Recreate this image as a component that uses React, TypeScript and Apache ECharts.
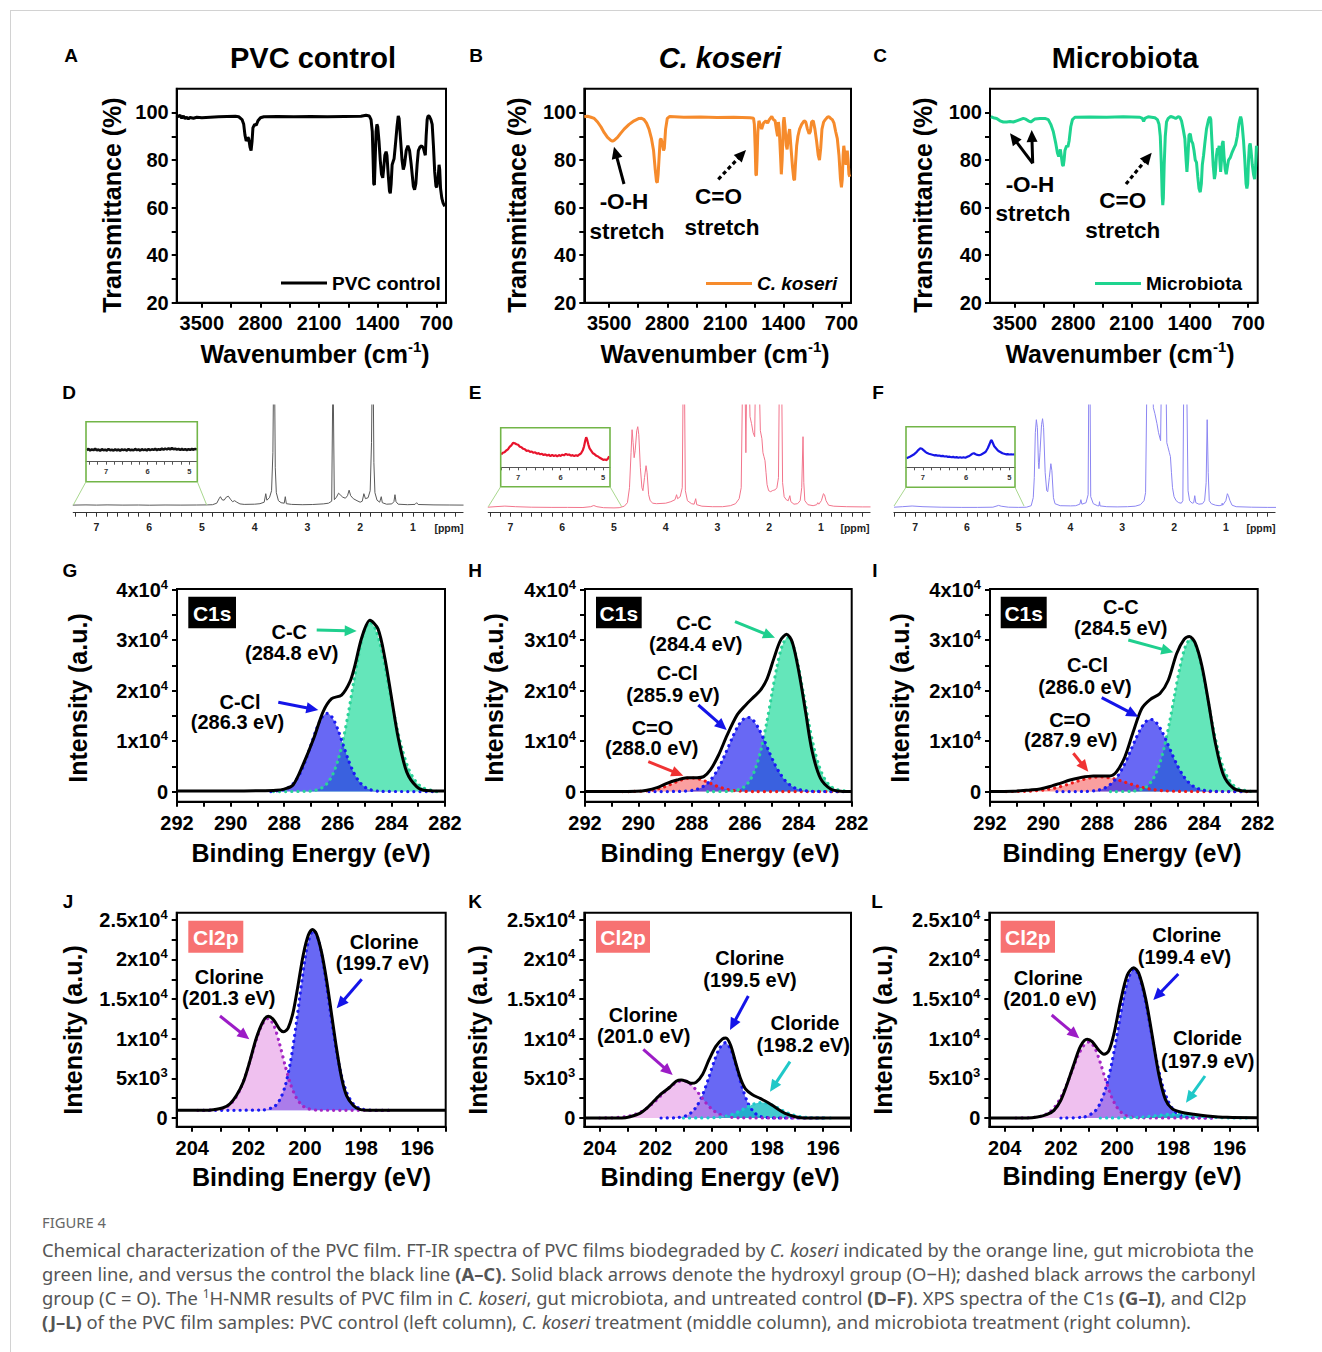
import React, { useEffect, useRef } from 'react';
import * as echarts from 'echarts';

const FONT = '"Liberation Sans", Arial, Helvetica, sans-serif';
const CAPTION_FONT = '"Noto Sans", "Open Sans", "DejaVu Sans", sans-serif';

// ---------------- FT-IR (A–C): [wavenumber (cm-1), transmittance (%)] ----------------
const ftirXTicks = [3500, 2800, 2100, 1400, 700];
const ftirXTickMarks = [3500, 3150, 2800, 2450, 2100, 1750, 1400, 1050, 700];
const ftirYTicks = [20, 40, 60, 80, 100];
const ftirYTickMarks = [20, 30, 40, 50, 60, 70, 80, 90, 100];

const ftirControl = [
  [3800, 98.8], [3780, 98.2], [3760, 98.9], [3740, 97.6], [3720, 98.5], [3700, 97.4], [3680, 98.0], [3660, 97.3],
  [3640, 97.9], [3600, 97.6], [3560, 98.0], [3500, 97.8], [3400, 98.0], [3300, 98.2], [3200, 98.3], [3100, 98.4],
  [3060, 98.2], [3020, 97.0], [3000, 95.0], [2985, 90.5], [2970, 88.0], [2960, 88.6], [2950, 89.5], [2940, 89.0],
  [2925, 85.5], [2912, 84.0], [2900, 88.0], [2890, 93.5], [2870, 95.0], [2850, 94.6], [2830, 96.5], [2800, 97.8],
  [2760, 98.2], [2600, 98.3], [2400, 98.2], [2200, 98.3], [2000, 98.2], [1800, 98.3], [1600, 98.4], [1540, 98.8],
  [1500, 98.5], [1480, 97.0], [1465, 92.0], [1455, 80.0], [1448, 70.0], [1440, 69.5], [1432, 78.0], [1420, 92.0],
  [1410, 95.0], [1400, 94.0], [1385, 88.0], [1370, 80.0], [1355, 74.0], [1340, 72.5], [1330, 76.0], [1315, 82.0],
  [1300, 83.5], [1290, 82.0], [1275, 74.0], [1260, 67.0], [1250, 66.0], [1240, 70.0], [1228, 78.0], [1215, 79.5],
  [1205, 80.5], [1190, 86.0], [1170, 94.0], [1155, 98.5], [1145, 97.5], [1130, 90.0], [1110, 80.0], [1095, 76.0],
  [1080, 78.0], [1060, 84.0], [1040, 86.0], [1020, 84.0], [1000, 78.0], [975, 69.0], [960, 67.5], [945, 70.0],
  [930, 78.0], [915, 84.0], [895, 85.5], [875, 86.0], [855, 85.0], [840, 83.0], [832, 82.0], [822, 90.0],
  [810, 97.0], [800, 98.5], [785, 98.5], [765, 97.0], [750, 95.0], [735, 86.0], [720, 75.0], [705, 69.0],
  [695, 68.5], [680, 72.0], [668, 78.0], [660, 76.0], [650, 68.0], [635, 64.0], [620, 62.0], [600, 60.5],
];

const ftirKoseri = [
  [3800, 98.2], [3760, 98.4], [3720, 98.0], [3680, 97.5], [3640, 96.0], [3600, 94.0], [3560, 91.5], [3520, 89.5],
  [3480, 88.3], [3460, 88.0], [3440, 88.3], [3400, 89.5], [3360, 91.3], [3320, 93.0], [3260, 95.0], [3200, 96.5],
  [3140, 97.5], [3110, 97.6], [3080, 97.0], [3050, 95.5], [3020, 93.0], [2990, 89.0], [2965, 84.0], [2945, 76.0],
  [2930, 71.0], [2920, 70.5], [2910, 74.0], [2895, 83.0], [2885, 88.5], [2875, 89.0], [2860, 87.0], [2845, 84.0],
  [2835, 85.0], [2820, 93.0], [2800, 97.5], [2770, 98.3], [2600, 98.0], [2400, 98.1], [2200, 97.9], [2000, 98.0],
  [1800, 97.8], [1760, 97.6], [1750, 95.0], [1740, 85.0], [1732, 74.0], [1725, 73.5], [1718, 80.0], [1708, 92.0],
  [1695, 96.5], [1680, 95.0], [1662, 93.0], [1640, 95.5], [1610, 96.5], [1590, 95.5], [1570, 97.0], [1540, 98.3],
  [1520, 97.0], [1500, 96.5], [1480, 92.0], [1470, 90.0], [1460, 96.0], [1450, 93.0], [1435, 82.0], [1425, 74.0],
  [1415, 80.0], [1400, 96.0], [1392, 98.0], [1380, 94.0], [1365, 86.0], [1355, 84.5], [1340, 90.0], [1325, 93.0],
  [1310, 86.0], [1290, 77.0], [1275, 72.0], [1265, 71.5], [1255, 78.0], [1240, 86.0], [1225, 90.0], [1205, 93.0],
  [1180, 95.0], [1150, 96.5], [1130, 96.0], [1110, 93.0], [1090, 91.0], [1075, 92.0], [1060, 96.0], [1040, 96.5],
  [1020, 93.0], [1000, 88.0], [980, 82.0], [965, 80.0], [950, 85.0], [935, 93.0], [915, 96.0], [895, 97.0],
  [870, 98.0], [850, 98.2], [830, 97.5], [810, 97.0], [790, 95.5], [770, 92.0], [750, 89.0], [730, 82.0],
  [712, 72.0], [700, 68.5], [690, 72.0], [680, 82.0], [672, 86.0], [665, 84.0], [655, 80.0], [645, 78.0],
  [630, 84.0], [620, 80.0], [610, 74.0], [600, 73.0],
];

const ftirMicrobiota = [
  [3790, 98.2], [3760, 97.8], [3720, 97.5], [3680, 96.5], [3640, 96.0], [3600, 96.0], [3560, 96.2], [3520, 96.0],
  [3480, 96.5], [3440, 97.0], [3400, 97.5], [3370, 97.2], [3340, 96.5], [3310, 96.0], [3290, 96.5], [3260, 97.3],
  [3200, 97.5], [3140, 97.5], [3100, 97.0], [3070, 95.0], [3040, 92.0], [3010, 87.0], [2990, 83.0], [2975, 81.5],
  [2965, 82.5], [2955, 84.5], [2945, 82.0], [2930, 78.0], [2920, 77.5], [2910, 80.0], [2900, 84.0], [2880, 86.0],
  [2865, 85.5], [2850, 88.0], [2830, 94.0], [2810, 97.0], [2780, 98.0], [2600, 98.1], [2400, 98.0], [2200, 98.2],
  [2000, 98.0], [1970, 97.5], [1955, 96.3], [1940, 97.5], [1900, 98.2], [1820, 97.8], [1790, 97.0], [1770, 95.0],
  [1755, 90.0], [1742, 78.0], [1732, 65.0], [1725, 61.0], [1718, 64.0], [1708, 78.0], [1695, 90.0], [1680, 96.0],
  [1660, 97.5], [1630, 98.3], [1600, 98.0], [1570, 97.5], [1540, 98.2], [1520, 98.0], [1500, 96.5], [1480, 93.0],
  [1460, 89.0], [1445, 80.0], [1435, 75.0], [1425, 80.0], [1410, 90.5], [1395, 91.0], [1380, 88.0], [1365, 87.0],
  [1350, 84.0], [1335, 80.0], [1320, 79.0], [1305, 73.0], [1290, 68.0], [1275, 66.5], [1262, 70.0], [1250, 78.0],
  [1235, 82.0], [1220, 87.0], [1200, 93.0], [1175, 97.0], [1160, 98.2], [1148, 97.0], [1135, 88.0], [1120, 78.0],
  [1105, 72.0], [1095, 74.0], [1080, 82.0], [1068, 85.0], [1058, 84.0], [1048, 86.0], [1040, 80.0], [1030, 75.0],
  [1020, 80.0], [1010, 87.0], [1000, 88.0], [990, 82.0], [975, 76.0], [963, 74.0], [950, 77.0], [935, 80.0],
  [915, 81.0], [895, 83.0], [870, 85.0], [850, 86.5], [830, 90.0], [812, 95.0], [800, 97.0], [790, 98.2],
  [780, 97.0], [770, 94.0], [755, 88.0], [740, 80.0], [725, 70.0], [715, 68.0], [705, 70.0], [695, 80.0],
  [685, 86.0], [675, 87.0], [665, 84.0], [650, 78.0], [635, 74.0], [622, 72.0], [612, 76.0], [600, 86.0],
];

// ---------------- 1H-NMR (D–F): [ppm, signal height] ----------------
const nmrXTicks = [1, 2, 3, 4, 5, 6, 7];
const nmrInsetXTicks = [5, 6, 7];

const nmrControl = [
  [7.45, 7.6], [7.2, 7.8], [7.0, 7.6], [6.8, 7.8], [6.5, 7.6], [6.2, 7.7], [6.0, 7.5], [5.7, 7.7], [5.4, 7.6],
  [5.1, 7.7], [4.9, 7.8], [4.8, 8.0], [4.72, 9.5], [4.67, 14.5], [4.65, 16.0], [4.62, 13.0], [4.58, 12.5],
  [4.54, 15.5], [4.5, 16.5], [4.46, 13.5], [4.42, 11.0], [4.38, 12.0], [4.34, 10.5], [4.28, 8.8], [4.2, 8.3],
  [4.0, 8.5], [3.9, 9.0], [3.82, 10.5], [3.79, 19.0], [3.77, 12.5], [3.72, 15.0], [3.68, 22.0], [3.655, 60.0],
  [3.64, 150], [3.625, 150], [3.61, 45.0], [3.59, 20.0], [3.55, 12.0], [3.5, 10.0], [3.44, 9.5], [3.42, 16.0],
  [3.4, 9.0], [3.3, 8.3], [3.1, 8.0], [2.9, 8.2], [2.7, 8.8], [2.6, 9.5], [2.54, 11.5], [2.515, 150],
  [2.505, 150], [2.49, 13.0], [2.45, 15.5], [2.41, 19.5], [2.38, 18.0], [2.33, 15.5], [2.28, 14.5], [2.24, 17.0],
  [2.21, 22.5], [2.18, 17.0], [2.13, 14.0], [2.06, 12.0], [2.0, 10.5], [1.96, 11.5], [1.93, 19.0], [1.9, 14.0],
  [1.85, 15.0], [1.81, 22.0], [1.785, 70.0], [1.77, 150], [1.755, 150], [1.74, 50.0], [1.72, 20.0], [1.68, 12.5],
  [1.63, 10.5], [1.6, 16.0], [1.58, 10.0], [1.5, 8.5], [1.4, 8.8], [1.36, 11.0], [1.34, 18.0], [1.32, 11.0],
  [1.28, 8.5], [1.1, 8.0], [0.96, 8.3], [0.93, 10.0], [0.9, 8.2], [0.6, 7.8], [0.3, 7.7], [0.04, 7.6],
];

const nmrKoseri = [
  [7.44, 5.5], [7.3, 6.0], [7.11, 6.6], [6.9, 6.0], [6.6, 5.5], [6.2, 5.3], [5.9, 5.3], [5.6, 5.2], [5.45, 6.0],
  [5.39, 7.2], [5.33, 6.0], [5.2, 5.0], [5.0, 4.8], [4.9, 5.0], [4.8, 6.5], [4.74, 10.0], [4.7, 25.0], [4.67, 60.0],
  [4.65, 83.0], [4.63, 70.0], [4.61, 55.0], [4.59, 62.0], [4.56, 82.0], [4.54, 86.0], [4.52, 78.0], [4.49, 45.0],
  [4.46, 25.0], [4.44, 22.0], [4.41, 35.0], [4.38, 47.0], [4.36, 40.0], [4.33, 18.0], [4.3, 12.0], [4.25, 9.5],
  [4.18, 9.0], [4.0, 9.5], [3.9, 11.0], [3.82, 13.0], [3.79, 18.0], [3.77, 14.0], [3.72, 16.0], [3.68, 25.0],
  [3.66, 150], [3.64, 150], [3.62, 22.0], [3.58, 12.0], [3.5, 9.0], [3.45, 8.5], [3.42, 14.0], [3.4, 8.0],
  [3.3, 6.5], [3.1, 6.0], [2.9, 6.0], [2.75, 7.0], [2.65, 9.0], [2.58, 14.0], [2.54, 25.0], [2.51, 150],
  [2.47, 150], [2.45, 60.0], [2.43, 150], [2.39, 150], [2.37, 96.0], [2.34, 89.0], [2.31, 80.0], [2.28, 76.0],
  [2.26, 150], [2.2, 150], [2.17, 82.0], [2.14, 74.0], [2.12, 60.0], [2.1, 56.0], [2.08, 52.0], [2.06, 40.0],
  [2.04, 28.0], [2.01, 22.0], [1.97, 21.0], [1.94, 22.0], [1.91, 22.5], [1.88, 23.0], [1.85, 25.0], [1.82, 35.0],
  [1.8, 150], [1.76, 150], [1.74, 30.0], [1.71, 16.0], [1.67, 13.0], [1.63, 12.0], [1.6, 17.0], [1.58, 11.0],
  [1.52, 8.5], [1.45, 9.0], [1.4, 12.0], [1.37, 25.0], [1.345, 76.0], [1.33, 30.0], [1.31, 12.0], [1.25, 8.0],
  [1.15, 7.0], [1.08, 8.0], [1.06, 10.0], [1.04, 8.5], [0.99, 12.0], [0.95, 19.0], [0.93, 18.0], [0.9, 12.0],
  [0.85, 7.5], [0.75, 6.5], [0.5, 6.0], [0.2, 5.8], [0.04, 5.8],
];

const nmrMicrobiota = [
  [7.41, 5.5], [7.25, 6.0], [7.06, 6.7], [6.85, 6.0], [6.5, 5.5], [6.1, 5.3], [5.8, 5.3], [5.5, 5.5], [5.42, 6.8],
  [5.39, 7.3], [5.34, 6.5], [5.2, 5.5], [5.0, 5.3], [4.85, 5.5], [4.76, 7.0], [4.72, 15.0], [4.7, 35.0], [4.68, 80.0],
  [4.66, 93.0], [4.64, 85.0], [4.62, 50.0], [4.61, 44.0], [4.59, 60.0], [4.56, 88.0], [4.54, 94.0], [4.52, 85.0],
  [4.49, 40.0], [4.46, 22.0], [4.44, 21.0], [4.41, 35.0], [4.38, 49.0], [4.36, 42.0], [4.33, 15.0], [4.3, 9.0],
  [4.2, 7.0], [4.0, 6.8], [3.9, 7.0], [3.82, 8.5], [3.8, 13.0], [3.78, 8.5], [3.7, 10.0], [3.66, 18.0],
  [3.645, 150], [3.625, 150], [3.61, 16.0], [3.56, 9.0], [3.48, 7.0], [3.45, 6.8], [3.44, 11.0], [3.43, 6.8],
  [3.3, 6.0], [3.1, 5.8], [2.9, 6.0], [2.75, 6.5], [2.65, 8.0], [2.58, 12.0], [2.55, 20.0], [2.52, 150],
  [2.47, 150], [2.45, 120], [2.42, 150], [2.4, 105.0], [2.37, 99.0], [2.33, 89.0], [2.3, 80.0], [2.26, 72.0],
  [2.24, 150], [2.16, 150], [2.14, 70.0], [2.12, 66.0], [2.09, 60.0], [2.07, 56.0], [2.05, 40.0], [2.03, 25.0],
  [2.0, 16.0], [1.96, 12.0], [1.91, 10.0], [1.86, 9.5], [1.83, 12.0], [1.81, 150], [1.76, 150], [1.73, 22.0],
  [1.7, 12.0], [1.65, 9.5], [1.62, 10.0], [1.6, 17.0], [1.58, 10.0], [1.52, 8.5], [1.45, 9.0], [1.41, 12.0],
  [1.38, 30.0], [1.36, 93.0], [1.34, 40.0], [1.32, 12.0], [1.28, 9.0], [1.2, 7.5], [1.13, 7.0], [1.08, 7.5],
  [1.07, 9.5], [1.06, 7.5], [1.0, 12.0], [0.97, 19.0], [0.95, 17.0], [0.92, 12.0], [0.88, 7.5], [0.8, 6.0],
  [0.5, 5.5], [0.2, 5.3], [0.03, 5.3],
];

const nmrInsetControl = [
  [7.46, 11.5], [7.42, 12.8], [7.38, 11.2], [7.34, 12.4], [7.3, 11.6], [7.26, 12.9], [7.22, 11.3], [7.18, 12.2],
  [7.14, 11.0], [7.1, 12.6], [7.06, 11.4], [7.02, 12.1], [6.98, 11.2], [6.94, 12.7], [6.9, 11.5], [6.86, 12.0],
  [6.82, 11.1], [6.78, 12.5], [6.74, 11.3], [6.7, 12.2], [6.66, 11.0], [6.62, 12.4], [6.58, 11.6], [6.54, 12.1],
  [6.5, 11.2], [6.46, 12.6], [6.42, 11.4], [6.38, 12.0], [6.34, 11.3], [6.3, 12.8], [6.26, 11.5], [6.22, 12.3],
  [6.18, 11.1], [6.14, 12.5], [6.1, 11.6], [6.06, 12.2], [6.02, 11.3], [5.98, 12.7], [5.94, 11.5], [5.9, 12.4],
  [5.86, 11.8], [5.82, 12.9], [5.78, 11.6], [5.74, 12.5], [5.7, 11.9], [5.66, 13.0], [5.62, 12.0], [5.58, 13.2],
  [5.54, 12.2], [5.5, 13.4], [5.46, 12.3], [5.42, 13.6], [5.38, 12.4], [5.34, 13.1], [5.3, 12.2], [5.26, 12.8],
  [5.22, 11.9], [5.18, 12.7], [5.14, 11.8], [5.1, 12.6], [5.06, 11.7], [5.02, 12.5], [4.98, 11.9], [4.94, 12.7],
  [4.9, 12.0], [4.86, 12.8], [4.82, 12.2],
];

const nmrInsetKoseri = [
  [7.4, 13], [7.36, 14.5], [7.32, 15], [7.28, 16.8], [7.24, 18], [7.2, 20.5], [7.16, 22], [7.12, 24.5], [7.08, 24],
  [7.04, 23], [7.0, 22.5], [6.96, 20.5], [6.92, 20], [6.88, 18.5], [6.84, 18], [6.8, 16.5], [6.76, 16.8], [6.72, 15.5],
  [6.68, 15.8], [6.64, 14.5], [6.6, 15], [6.56, 13.6], [6.52, 14.2], [6.48, 13], [6.44, 13.5], [6.4, 12.2], [6.36, 13],
  [6.32, 11.8], [6.28, 12.6], [6.24, 11.2], [6.2, 12.4], [6.16, 11.3], [6.12, 12], [6.08, 11], [6.04, 12.2], [6.0, 11.4],
  [5.96, 12.6], [5.92, 12], [5.88, 13.4], [5.84, 12.5], [5.8, 12.8], [5.76, 11.6], [5.72, 12.2], [5.68, 11.2], [5.64, 12],
  [5.6, 11.4], [5.56, 12.8], [5.52, 14], [5.48, 17], [5.45, 21], [5.42, 27], [5.4, 30], [5.38, 28], [5.35, 23], [5.32, 19],
  [5.28, 16.5], [5.24, 14], [5.2, 13], [5.16, 11.5], [5.12, 10.8], [5.08, 9.5], [5.04, 8.5], [5.0, 7.5], [4.96, 7.8],
  [4.92, 7.2], [4.89, 8.5], [4.86, 11],
];

const nmrInsetMicrobiota = [
  [7.38, 9], [7.34, 9.8], [7.3, 10.5], [7.26, 11.5], [7.22, 12.5], [7.18, 14], [7.14, 15.5], [7.1, 17.5], [7.06, 19],
  [7.02, 18.5], [6.98, 17], [6.94, 15.5], [6.9, 14.2], [6.86, 13.5], [6.82, 13], [6.78, 12.5], [6.74, 12], [6.7, 12.2],
  [6.66, 11.6], [6.62, 11.8], [6.58, 11.2], [6.54, 11.4], [6.5, 10.8], [6.46, 11], [6.42, 10.4], [6.38, 10.6], [6.34, 10],
  [6.3, 10.4], [6.26, 9.8], [6.22, 10.2], [6.18, 9.6], [6.14, 10], [6.1, 9.5], [6.06, 10], [6.02, 9.6], [5.98, 10.4],
  [5.94, 11], [5.9, 12.2], [5.86, 13.5], [5.82, 14], [5.78, 13], [5.74, 12.4], [5.7, 12], [5.66, 12.6], [5.62, 13.5],
  [5.58, 14.5], [5.54, 16], [5.5, 19], [5.46, 23], [5.43, 26.5], [5.41, 27], [5.38, 24], [5.35, 21], [5.32, 19.5],
  [5.28, 17.5], [5.24, 16], [5.2, 15], [5.16, 14], [5.12, 13.5], [5.08, 13], [5.04, 13.2], [5.0, 12.8], [4.96, 13],
  [4.92, 12.8], [4.88, 13],
];

// ---------------- XPS C1s (G–I): [binding energy (eV), intensity (a.u.)] ----------------
const c1sXTicks = [292, 290, 288, 286, 284, 282];
const c1sXTickMarks = [292, 291, 290, 289, 288, 287, 286, 285, 284, 283, 282];
const c1sYTicks = [0, 10000, 20000, 30000, 40000];
const c1sYTickLabels = ['0', '1x10^4', '2x10^4', '3x10^4', '4x10^4'];
const c1sYTickMarks = [0, 5000, 10000, 15000, 20000, 25000, 30000, 35000, 40000];

const c1sEnvG = [
  [292, 100], [290, 120], [289, 150], [288.3, 250], [288.0, 500], [287.67, 1300], [287.3, 5300], [286.9, 10500],
  [286.55, 15800], [286.23, 18400], [285.86, 19100], [285.55, 21700], [285.36, 25000], [285.1, 30600], [284.8, 33900],
  [284.5, 32200], [284.24, 26300], [283.99, 18400], [283.74, 10500], [283.43, 3900], [283.06, 1000], [282.69, 200], [282, 100],
];
const c1sCCG = [
  [288.4, 0], [287.0, 100], [286.6, 740], [286.4, 1610], [286.2, 3280], [286.0, 6100], [285.8, 10250], [285.6, 15710],
  [285.4, 21880], [285.2, 27700], [285.0, 31960], [284.8, 33500], [284.6, 32230], [284.4, 28710], [284.2, 23680],
  [284.0, 18060], [283.8, 12760], [283.6, 8380], [283.4, 5060], [283.2, 2850], [283.0, 1470], [282.8, 700], [282.4, 130], [282.3, 0],
];
const c1sCClG = [
  [288.5, 0], [288.4, 50], [288.0, 390], [287.8, 930], [287.6, 1950], [287.4, 3690], [287.2, 6180], [287.0, 9240],
  [286.8, 12320], [286.6, 14630], [286.4, 15500], [286.2, 14630], [286.0, 12320], [285.8, 9240], [285.6, 6180],
  [285.4, 3690], [285.2, 1950], [285.0, 930], [284.8, 390], [284.4, 50], [282.4, 0],
];

const c1sEnvH = [
  [292, 0], [290.5, 20], [290.06, 50], [289.68, 260], [289.3, 790], [288.93, 1640], [288.55, 2300], [288.18, 2760],
  [287.8, 2760], [287.55, 2960], [287.3, 4280], [286.99, 7240], [286.67, 11180], [286.3, 15130], [285.98, 17100],
  [285.67, 18750], [285.42, 20070], [285.17, 22370], [284.92, 26320], [284.67, 29930], [284.44, 31120], [284.23, 29600],
  [283.98, 23680], [283.73, 15790], [283.48, 7890], [283.17, 2630], [282.79, 530], [282.41, 60], [282, 0],
];
const c1sCCH = [
  [287.4, 0], [286.6, 60], [286.2, 460], [286.0, 1100], [285.8, 2380], [285.6, 4700], [285.4, 8330], [285.2, 13270],
  [285.0, 19090], [284.8, 24770], [284.6, 28940], [284.4, 30500], [284.2, 28940], [284.0, 24770], [283.8, 19090],
  [283.6, 13270], [283.4, 8330], [283.2, 4700], [283.0, 2380], [282.8, 1100], [282.6, 460], [282.2, 60], [282.1, 0],
];
const c1sCClH = [
  [289.6, 0], [288.3, 60], [287.9, 310], [287.7, 650], [287.5, 1250], [287.3, 2220], [287.1, 3680], [286.9, 5600],
  [286.7, 7920], [286.5, 10390], [286.3, 12600], [286.1, 14140], [285.9, 14700], [285.7, 14140], [285.5, 12600],
  [285.3, 10390], [285.1, 7920], [284.9, 5600], [284.7, 3680], [284.5, 2220], [284.3, 1250], [284.1, 650],
  [283.9, 310], [283.5, 60], [282.3, 0],
];
const c1sCOH = [
  [290.6, 0], [290.4, 8], [290.0, 46], [289.8, 100], [289.6, 200], [289.4, 360], [289.2, 620], [289.0, 970],
  [288.8, 1400], [288.6, 1870], [288.4, 2290], [288.2, 2590], [288.0, 2700], [287.8, 2590], [287.6, 2290],
  [287.4, 1870], [287.2, 1400], [287.0, 970], [286.8, 620], [286.6, 360], [286.4, 200], [286.2, 100], [286.0, 46],
  [285.6, 8], [282.5, 0],
];

const c1sEnvI = [
  [292, 30], [291.13, 70], [290.5, 330], [290.13, 530], [289.76, 1000], [289.38, 1640], [289.01, 2300], [288.64, 2760],
  [288.14, 3090], [287.52, 3090], [287.27, 3950], [286.96, 6900], [286.65, 11840], [286.33, 16450], [286.02, 18220],
  [285.65, 19410], [285.34, 22040], [285.03, 27300], [284.75, 30130], [284.55, 30720], [284.34, 29470], [284.09, 25000],
  [283.84, 17760], [283.59, 9870], [283.28, 3290], [282.91, 660], [282.54, 130], [282, 50],
];
const c1sCCI = [
  [287.5, 0], [286.7, 60], [286.3, 510], [286.1, 1210], [285.9, 2570], [285.7, 4920], [285.5, 8580], [285.3, 13500],
  [285.1, 19180], [284.9, 24670], [284.7, 28720], [284.5, 30200], [284.3, 28720], [284.1, 24670], [283.9, 19180],
  [283.7, 13500], [283.5, 8580], [283.3, 4920], [283.1, 2570], [282.9, 1210], [282.7, 510], [282.3, 60], [282.2, 0],
];
const c1sCClI = [
  [289.5, 0], [288.4, 40], [288.0, 240], [287.8, 530], [287.6, 1040], [287.4, 1930], [287.2, 3290], [287.0, 5150],
  [286.8, 7440], [286.6, 9910], [286.4, 12140], [286.2, 13730], [286.0, 14300], [285.8, 13730], [285.6, 12140],
  [285.4, 9910], [285.2, 7440], [285.0, 5150], [284.8, 3290], [284.6, 1930], [284.4, 1040], [284.2, 530],
  [284.0, 240], [283.6, 40], [282.4, 0],
];
const c1sCOI = [
  [291.4, 0], [291.1, 20], [290.7, 60], [290.3, 160], [289.9, 390], [289.7, 570], [289.5, 810], [289.3, 1090],
  [289.1, 1410], [288.9, 1760], [288.7, 2110], [288.5, 2420], [288.3, 2680], [288.1, 2840], [287.9, 2900],
  [287.7, 2840], [287.5, 2680], [287.3, 2420], [287.1, 2110], [286.9, 1760], [286.7, 1410], [286.5, 1090],
  [286.3, 810], [286.1, 570], [285.9, 390], [285.5, 160], [285.1, 60], [284.7, 20], [282.4, 0],
];

// ---------------- XPS Cl2p (J–L) ----------------
const cl2pXTicks = [204, 202, 200, 198, 196];
const cl2pXTickMarks = [204, 203, 202, 201, 200, 199, 198, 197, 196, 195];
const cl2pYTicks = [0, 5000, 10000, 15000, 20000, 25000];
const cl2pYTickLabels = ['0', '5x10^3', '1x10^4', '1.5x10^4', '2x10^4', '2.5x10^4'];
const cl2pYTickMarks = [0, 2500, 5000, 7500, 10000, 12500, 15000, 17500, 20000, 22500, 25000];
const cl2pBaselineJ = 960;

const cl2pEnvJ = [
  [204.55, 960], [203.6, 960], [203.25, 1040], [202.9, 1290], [202.66, 1790], [202.43, 2830], [202.19, 4500],
  [201.95, 7210], [201.72, 10130], [201.48, 12210], [201.3, 12830], [201.12, 12420], [200.89, 11170], [200.75, 10880],
  [200.59, 11380], [200.41, 13460], [200.24, 16790], [200.06, 20540], [199.88, 23040], [199.73, 23790], [199.59, 23250],
  [199.41, 20960], [199.23, 17420], [199.05, 13040], [198.88, 8880], [198.7, 5130], [198.52, 2830], [198.28, 1580],
  [198.05, 1080], [197.69, 960], [195, 960],
];
const cl2pBlueJ = [
  [203.6, 960], [201.5, 1010], [201.1, 1410], [200.9, 2230], [200.7, 4020], [200.5, 7270], [200.3, 12010],
  [200.1, 17440], [199.9, 21910], [199.7, 23660], [199.5, 22210], [199.3, 18390], [199.1, 13490], [198.9, 8840],
  [198.7, 5320], [198.5, 3070], [198.3, 1850], [198.1, 1280], [197.7, 980], [197.0, 960],
];
const cl2pPinkJ = [
  [203.8, 960], [203.3, 990], [202.9, 1220], [202.7, 1590], [202.5, 2330], [202.3, 3580], [202.1, 5440],
  [201.9, 7760], [201.7, 10100], [201.5, 11890], [201.3, 12560], [201.1, 11670], [200.9, 9380], [200.7, 6610],
  [200.5, 4180], [200.3, 2530], [200.1, 1610], [199.9, 1190], [199.5, 980], [197.0, 960],
];

const cl2pEnvK = [
  [204.55, 0], [203.2, 0], [202.91, 165], [202.56, 580], [202.32, 1200], [202.09, 2020], [201.79, 3060], [201.49, 3880],
  [201.26, 4630], [201.08, 4790], [200.9, 4630], [200.73, 4380], [200.55, 4500], [200.31, 5530], [200.08, 7390],
  [199.84, 9040], [199.6, 9990], [199.48, 10080], [199.31, 9170], [199.13, 6980], [198.95, 4910], [198.78, 3680],
  [198.54, 2970], [198.24, 2440], [197.95, 1900], [197.65, 1200], [197.36, 580], [197.0, 165], [196.65, 0], [195, 0],
];
const cl2pPinkK = [
  [204.0, 0], [203.8, 10], [203.4, 50], [203.0, 210], [202.8, 380], [202.6, 630], [202.4, 1020], [202.2, 1530],
  [202.0, 2150], [201.8, 2850], [201.6, 3550], [201.4, 4150], [201.2, 4550], [201.0, 4700], [200.8, 4450],
  [200.6, 3760], [200.4, 2850], [200.2, 1930], [200.0, 1170], [199.8, 630], [199.6, 310], [199.4, 140],
  [199.0, 20], [196.0, 0],
];
const cl2pBlueK = [
  [201.8, 0], [201.3, 30], [200.9, 290], [200.7, 730], [200.5, 1610], [200.3, 3040], [200.1, 5010], [199.9, 7140],
  [199.7, 8840], [199.5, 9500], [199.3, 8610], [199.1, 6400], [198.9, 3900], [198.7, 1960], [198.5, 810],
  [198.3, 280], [198.1, 80], [197.7, 0], [196.0, 0],
];
const cl2pCyanK = [
  [201.0, 0], [200.4, 4], [200.0, 30], [199.8, 70], [199.6, 150], [199.4, 300], [199.2, 530], [199.0, 850],
  [198.8, 1220], [198.6, 1580], [198.4, 1850], [198.2, 1950], [198.0, 1850], [197.8, 1580], [197.6, 1220],
  [197.4, 850], [197.2, 530], [197.0, 300], [196.8, 150], [196.6, 70], [196.4, 30], [196.0, 4], [195.6, 0],
];

const cl2pEnvL = [
  [204.55, 0], [203.2, 0], [202.84, 125], [202.49, 460], [202.25, 960], [202.01, 2210], [201.78, 4290], [201.54, 6790],
  [201.3, 9080], [201.07, 9920], [200.89, 9630], [200.65, 8540], [200.47, 8040], [200.3, 8460], [200.12, 10540],
  [199.88, 14710], [199.64, 18040], [199.41, 18960], [199.23, 18250], [198.99, 15130], [198.76, 10540], [198.52, 5540],
  [198.28, 2290], [198.05, 1170], [197.75, 750], [197.28, 460], [196.8, 250], [196.09, 80], [195, 40],
];
const cl2pPinkL = [
  [203.6, 0], [203.2, 20], [202.8, 140], [202.6, 350], [202.4, 750], [202.2, 1480], [202.0, 2620], [201.8, 4180],
  [201.6, 6010], [201.4, 7800], [201.2, 9110], [201.0, 9600], [200.8, 8860], [200.6, 6970], [200.4, 4680],
  [200.2, 2670], [200.0, 1300], [199.8, 540], [199.6, 190], [199.2, 20], [196.5, 0],
];
const cl2pBlueL = [
  [202.0, 0], [201.2, 110], [200.8, 830], [200.6, 1900], [200.4, 3820], [200.2, 6770], [200.0, 10580],
  [199.8, 14570], [199.6, 17630], [199.4, 18800], [199.2, 17710], [199.0, 14810], [198.8, 11020], [198.6, 7260],
  [198.4, 4250], [198.2, 2220], [198.0, 1020], [197.8, 410], [197.4, 60], [196.5, 0],
];
const cl2pCyanL = [
  [200.6, 0], [200.3, 2], [199.9, 8], [199.7, 18], [199.5, 36], [199.3, 70], [199.1, 115], [198.9, 180], [198.7, 260],
  [198.5, 350], [198.3, 425], [198.1, 480], [197.9, 500], [197.7, 480], [197.5, 425], [197.3, 350], [197.1, 260],
  [196.9, 180], [196.7, 115], [196.5, 70], [196.3, 36], [196.1, 18], [195.9, 8], [195.5, 2], [195.2, 0],
];

// ---------------- layout (pixels) ----------------
const LAYOUT = {
  ftir: [
    { l: 176.7, t: 88.7, r: 446, b: 302.7 },
    { l: 584.3, t: 88.7, r: 851, b: 302.7 },
    { l: 990, t: 88.7, r: 1257.7, b: 302.7 },
  ],
  legend: [{ x: 281, y: 273.5 }, { x: 706, y: 274 }, { x: 1095, y: 274 }],
  nmr: [
    { l: 73.3, t: 405, r: 463, b: 512.7, min: 0.05, max: 7.44 },
    { l: 488.3, t: 405, r: 870, b: 512.7, min: 0.05, max: 7.43 },
    { l: 894, t: 405, r: 1275, b: 512.7, min: 0.05, max: 7.41 },
  ],
  nmrInset: [
    { l: 86, t: 421.7, r: 197.3, b: 461.7, boxB: 481.7, min: 4.81, max: 7.48, cl: [73.3, 505], cr: [206.7, 505] },
    { l: 500.7, t: 427.7, r: 610, b: 467.3, boxB: 486.7, min: 4.84, max: 7.41, cl: [488.3, 506.7], cr: [621.7, 506.7] },
    { l: 906, t: 426.7, r: 1015, b: 467.3, boxB: 487.3, min: 4.87, max: 7.39, cl: [894, 506], cr: [1024, 506] },
  ],
  ppm: [[449, 528], [855, 528], [1261, 528]],
  c1s: [
    { l: 177, t: 589, r: 445, b: 801.7 },
    { l: 585, t: 589, r: 851.7, b: 801.7 },
    { l: 990, t: 589, r: 1257.7, b: 801.7 },
  ],
  cl2p: [
    { l: 176.7, t: 912.7, r: 445.7, b: 1126.7 },
    { l: 584.3, t: 912.7, r: 851, b: 1126.7 },
    { l: 989.3, t: 912.7, r: 1257.7, b: 1126.7 },
  ],
};

const COMP: any = {
  green: { line: '#2BD399', fill: 'rgba(40,220,160,0.72)' },
  blue: { line: '#1B1BF2', fill: 'rgba(40,40,240,0.7)' },
  red: { line: '#F01A1A', fill: 'rgba(245,80,80,0.55)' },
  pink: { line: '#A426C4', fill: 'rgba(225,140,225,0.55)' },
  cyan: { line: '#1FC9CC', fill: 'rgba(20,190,195,0.8)' },
};

function valAxis(gi: number, min: number, max: number, marks: number[], labels: number[], o: any = {}) {
  return {
    gridIndex: gi,
    type: 'value',
    min,
    max,
    inverse: !!o.inverse,
    show: o.show !== false,
    axisLine: { show: true, onZero: false, lineStyle: { color: o.lineColor || '#000', width: o.lineWidth ?? 2 } },
    axisTick: {
      show: true, inside: false, length: o.tickLen ?? 5, customValues: marks,
      lineStyle: { color: o.lineColor || '#000', width: o.tickWidth ?? 2 },
    },
    axisLabel: {
      show: true, customValues: labels, margin: o.margin ?? 9, color: o.labelColor || '#000',
      fontSize: o.fontSize ?? 20, fontWeight: 'bold', fontFamily: FONT,
      formatter: o.formatter || ((v: number) => `${v}`),
      ...(o.rich ? { rich: o.rich } : {}),
    },
    splitLine: { show: false },
    splitArea: { show: false },
  };
}

const sciFormatter = (ticks: number[], labels: string[]) => (v: number) => {
  const i = ticks.findIndex((t) => Math.abs(t - v) < 1e-6);
  const s = i >= 0 ? labels[i] : String(v);
  const p = s.split('^');
  return p.length === 2 ? `{b|${p[0]}}{s|${p[1]}}` : `{b|${s}}`;
};
const sciRich = {
  b: { fontSize: 20, fontWeight: 'bold', fontFamily: FONT, color: '#000', lineHeight: 24 },
  s: { fontSize: 13, fontWeight: 'bold', fontFamily: FONT, color: '#000', lineHeight: 14, verticalAlign: 'top' },
};

const txt = (x: number, y: number, text: string, size: number, o: any = {}) => ({
  type: 'text', x, y, rotation: o.rot || 0, z: 100, silent: true,
  style: {
    text, fontSize: size, fontWeight: o.weight || 'bold', fontStyle: o.italic ? 'italic' : 'normal',
    fontFamily: o.font || FONT, fill: o.color || '#000', align: o.align || 'center', verticalAlign: 'middle',
    ...(o.rich ? { rich: o.rich } : {}),
  },
});

const arrow = (x1: number, y1: number, x2: number, y2: number, color: string, width = 3, dashed = false, head = 12, hw = 5.5) => {
  const dx = x2 - x1, dy = y2 - y1;
  const len = Math.hypot(dx, dy);
  const ux = dx / len, uy = dy / len;
  const bx = x2 - ux * head, by = y2 - uy * head;
  return [
    { type: 'line', z: 100, silent: true, shape: { x1, y1, x2: bx + ux * 1, y2: by + uy * 1 },
      style: { stroke: color, lineWidth: width, lineDash: dashed ? [4, 3] : null } },
    { type: 'polygon', z: 100, silent: true,
      shape: { points: [[x2, y2], [bx - uy * hw, by + ux * hw], [bx + uy * hw, by - ux * hw]] },
      style: { fill: color } },
  ];
};

function buildOption() {
  const grid: any[] = [];
  const xAxis: any[] = [];
  const yAxis: any[] = [];
  const series: any[] = [];
  const graphic: any[] = [];

  const addGrid = (b: any, frame: boolean) => {
    grid.push({ left: b.l, top: b.t, width: b.r - b.l, height: b.b - b.t, show: frame, borderColor: '#000', borderWidth: 2, backgroundColor: 'transparent' });
    return grid.length - 1;
  };

  // ---------- FT-IR ----------
  const ftirSets = [
    { data: ftirControl, name: 'PVC control', color: '#000000', italic: false },
    { data: ftirKoseri, name: 'C. koseri', color: '#F68B2C', italic: true },
    { data: ftirMicrobiota, name: 'Microbiota', color: '#1ED48F', italic: false },
  ];
  const legend: any[] = [];
  ftirSets.forEach((s, i) => {
    const b = LAYOUT.ftir[i];
    const gi = addGrid(b, true);
    xAxis.push(valAxis(gi, 585, 3800, ftirXTickMarks, ftirXTicks, { inverse: true, margin: 10 }));
    yAxis.push(valAxis(gi, 20, 110, ftirYTickMarks, ftirYTicks, { margin: 8 }));
    series.push({
      type: 'line', name: s.name, xAxisIndex: gi, yAxisIndex: gi, data: s.data, symbol: 'none', showSymbol: false,
      color: s.color, lineStyle: { color: s.color, width: 3 }, z: 3,
    });
    legend.push({
      left: LAYOUT.legend[i].x, top: LAYOUT.legend[i].y, padding: 0, itemWidth: 46, itemHeight: 3, itemGap: 0,
      selectedMode: false, data: [{ name: s.name, icon: 'rect' }],
      textStyle: { fontSize: 19, fontWeight: 'bold', fontFamily: FONT, color: '#000', fontStyle: s.italic ? 'italic' : 'normal' },
    });
  });

  // ---------- NMR ----------
  const nmrTickMarks: number[] = [];
  for (let k = 1; k <= 37; k++) nmrTickMarks.push(Math.round(k * 2) / 10);
  const nmrInsetTickMarks: number[] = [];
  for (let k = 25; k <= 37; k++) nmrInsetTickMarks.push(Math.round(k * 2) / 10);
  const nmrSets = [
    { data: nmrControl, inset: nmrInsetControl, color: '#5a5a5a', insetColor: '#111111', insetW: 2.6 },
    { data: nmrKoseri, inset: nmrInsetKoseri, color: '#F2758C', insetColor: '#E8142C', insetW: 2.2 },
    { data: nmrMicrobiota, inset: nmrInsetMicrobiota, color: '#8C86F2', insetColor: '#1616E6', insetW: 2.2 },
  ];
  nmrSets.forEach((s, i) => {
    const b = LAYOUT.nmr[i];
    const gi = addGrid(b, false);
    xAxis.push(valAxis(gi, b.min, b.max, nmrTickMarks, nmrXTicks, { inverse: true, lineWidth: 1.2, tickWidth: 1, tickLen: 4, fontSize: 10.5, margin: 9, lineColor: '#333', labelColor: '#222' }));
    yAxis.push(valAxis(gi, 0, b.b - b.t, [], [], { show: false }));
    series.push({ type: 'line', xAxisIndex: gi, yAxisIndex: gi, data: s.data, symbol: 'none', lineStyle: { color: s.color, width: 1 }, z: 3 });

    const ib = LAYOUT.nmrInset[i];
    const gj = addGrid(ib, false);
    xAxis.push(valAxis(gj, ib.min, ib.max, nmrInsetTickMarks, nmrInsetXTicks, { inverse: true, lineWidth: 1, tickWidth: 1, tickLen: 3, fontSize: 7.5, margin: 6, lineColor: '#555', labelColor: '#333' }));
    yAxis.push(valAxis(gj, 0, ib.b - ib.t, [], [], { show: false }));
    series.push({ type: 'line', xAxisIndex: gj, yAxisIndex: gj, data: s.inset, symbol: 'none', lineStyle: { color: s.insetColor, width: s.insetW }, z: 3 });

    graphic.push({ type: 'rect', z: 90, silent: true, shape: { x: ib.l, y: ib.t, width: ib.r - ib.l, height: ib.boxB - ib.t }, style: { fill: 'none', stroke: '#72B548', lineWidth: 1.6 } });
    graphic.push({ type: 'line', z: 90, silent: true, shape: { x1: ib.l, y1: ib.boxB, x2: ib.cl[0], y2: ib.cl[1] }, style: { stroke: '#A9D88E', lineWidth: 1 } });
    graphic.push({ type: 'line', z: 90, silent: true, shape: { x1: ib.r, y1: ib.boxB, x2: ib.cr[0], y2: ib.cr[1] }, style: { stroke: '#A9D88E', lineWidth: 1 } });
    graphic.push(txt(LAYOUT.ppm[i][0], LAYOUT.ppm[i][1], '[ppm]', 10.5, { color: '#222' }));
  });

  // ---------- XPS ----------
  const compSeries = (gi: number, data: number[][], kind: string, base: number) => ({
    type: 'line', xAxisIndex: gi, yAxisIndex: gi, data, symbol: 'none', smooth: 0.3, z: 2,
    color: COMP[kind].line,
    lineStyle: { color: COMP[kind].line, width: 3.2, type: [0.1, 6], cap: 'round' },
    areaStyle: { color: COMP[kind].fill, origin: base, opacity: 1 },
  });
  const envSeries = (gi: number, data: number[][]) => ({
    type: 'line', xAxisIndex: gi, yAxisIndex: gi, data, symbol: 'none', smooth: 0.3, z: 4,
    color: '#000', lineStyle: { color: '#000', width: 3 },
  });

  const c1sSets = [
    { env: c1sEnvG, comps: [[c1sCCG, 'green'], [c1sCClG, 'blue']] },
    { env: c1sEnvH, comps: [[c1sCOH, 'red'], [c1sCCH, 'green'], [c1sCClH, 'blue']] },
    { env: c1sEnvI, comps: [[c1sCOI, 'red'], [c1sCCI, 'green'], [c1sCClI, 'blue']] },
  ];
  c1sSets.forEach((s, i) => {
    const gi = addGrid(LAYOUT.c1s[i], true);
    xAxis.push(valAxis(gi, 282, 292, c1sXTickMarks, c1sXTicks, { inverse: true, margin: 11 }));
    yAxis.push(valAxis(gi, -2000, 40100, c1sYTickMarks, c1sYTicks, { margin: 9, formatter: sciFormatter(c1sYTicks, c1sYTickLabels), rich: sciRich }));
    s.comps.forEach((c: any) => series.push(compSeries(gi, c[0], c[1], 0)));
    series.push(envSeries(gi, s.env));
  });

  const cl2pSets = [
    { env: cl2pEnvJ, base: cl2pBaselineJ, comps: [[cl2pBlueJ, 'blue'], [cl2pPinkJ, 'pink']] },
    { env: cl2pEnvK, base: 0, comps: [[cl2pBlueK, 'blue'], [cl2pPinkK, 'pink'], [cl2pCyanK, 'cyan']] },
    { env: cl2pEnvL, base: 0, comps: [[cl2pBlueL, 'blue'], [cl2pPinkL, 'pink'], [cl2pCyanL, 'cyan']] },
  ];
  cl2pSets.forEach((s, i) => {
    const gi = addGrid(LAYOUT.cl2p[i], true);
    xAxis.push(valAxis(gi, 195, 204.55, cl2pXTickMarks, cl2pXTicks, { inverse: true, margin: 11 }));
    yAxis.push(valAxis(gi, -1100, 25900, cl2pYTickMarks, cl2pYTicks, { margin: 9, formatter: sciFormatter(cl2pYTicks, cl2pYTickLabels), rich: sciRich }));
    s.comps.forEach((c: any) => series.push(compSeries(gi, c[0], c[1], s.base)));
    series.push(envSeries(gi, s.env));
  });

  // ---------- texts ----------
  const letters: any[] = [
    ['A', 71, 55], ['B', 476, 55], ['C', 880, 55], ['D', 69, 392], ['E', 475, 392], ['F', 878, 392],
    ['G', 70, 570], ['H', 475, 570], ['I', 875, 570], ['J', 68, 901], ['K', 475, 901], ['L', 877, 901],
  ];
  letters.forEach((l) => graphic.push(txt(l[1], l[2], l[0], 19)));

  graphic.push(txt(313, 58, 'PVC control', 29));
  graphic.push(txt(720, 58, 'C. koseri', 29, { italic: true }));
  graphic.push(txt(1125, 58, 'Microbiota', 29));

  const supRich = (size: number) => ({
    n: { fontSize: size, fontWeight: 'bold', fontFamily: FONT, fill: '#000', lineHeight: size + 5 },
    s: { fontSize: Math.round(size * 0.6), fontWeight: 'bold', fontFamily: FONT, fill: '#000', lineHeight: Math.round(size * 0.6) + 1, verticalAlign: 'top' },
  });
  [[315, 354], [715, 354], [1120, 354]].forEach((p) =>
    graphic.push(txt(p[0], p[1], '{n|Wavenumber (cm}{s|-1}{n|)}', 25, { rich: supRich(25) })));
  [[112, 205], [517, 205], [923, 205]].forEach((p) =>
    graphic.push(txt(p[0], p[1], 'Transmittance (%)', 25, { rot: Math.PI / 2 })));
  [[311, 852.5], [720, 852.5], [1122, 852.5], [311.5, 1176.5], [720, 1177], [1122, 1175.5]].forEach((p) =>
    graphic.push(txt(p[0], p[1], 'Binding Energy (eV)', 25)));
  [[78, 698], [494, 698], [900, 698], [73, 1030], [478, 1030], [883, 1030]].forEach((p) =>
    graphic.push(txt(p[0], p[1], 'Intensity (a.u.)', 25, { rot: Math.PI / 2 })));

  // FT-IR annotations
  graphic.push(txt(624, 201.5, '-O-H', 22.5), txt(627, 231, 'stretch', 22.5));
  graphic.push(txt(718.5, 196.5, 'C=O', 22.5), txt(722, 227, 'stretch', 22.5));
  graphic.push(...arrow(624, 184, 614, 146.7, '#000', 3));
  graphic.push(...arrow(718.3, 179.3, 746, 150, '#000', 3.2, true));
  graphic.push(txt(1030, 184, '-O-H', 22.5), txt(1033, 213, 'stretch', 22.5));
  graphic.push(txt(1122.7, 200, 'C=O', 22.5), txt(1122.7, 230.5, 'stretch', 22.5));
  graphic.push(...arrow(1032.7, 163.3, 1010, 133.3, '#000', 3));
  graphic.push(...arrow(1032.7, 163.3, 1031.7, 130, '#000', 3));
  graphic.push(...arrow(1126, 184, 1151.7, 152.7, '#000', 3.2, true));

  // XPS boxes
  const boxes: any[] = [
    [188.3, 596.7, 47.7, 31.6, '#000000', 'C1s'], [596, 596.7, 45.7, 31.6, '#000000', 'C1s'], [1000.7, 596.7, 46, 31.6, '#000000', 'C1s'],
    [188.3, 920.7, 55, 32, '#F77272', 'Cl2p'], [596, 920.7, 54, 32, '#F77272', 'Cl2p'], [1000.7, 920.7, 54.3, 32, '#F77272', 'Cl2p'],
  ];
  boxes.forEach((bx) => {
    graphic.push({ type: 'rect', z: 95, silent: true, shape: { x: bx[0], y: bx[1], width: bx[2], height: bx[3] }, style: { fill: bx[4] } });
    graphic.push(txt(bx[0] + bx[2] / 2, bx[1] + bx[3] / 2 + 0.5, bx[5], 21, { color: '#fff' }));
  });

  const ann: any[] = [
    ['C-C', 289.2, 631.7], ['(284.8 eV)', 291.7, 653.3], ['C-Cl', 240, 701.7], ['(286.3 eV)', 237.5, 721.7],
    ['C-C', 694, 623.3], ['(284.4 eV)', 695.8, 644.3], ['C-Cl', 677.3, 673.3], ['(285.9 eV)', 673, 695],
    ['C=O', 652.5, 728.3], ['(288.0 eV)', 651.7, 748.3],
    ['C-C', 1120.8, 606.7], ['(284.5 eV)', 1120.8, 627.7], ['C-Cl', 1087.5, 665], ['(286.0 eV)', 1085, 686.7],
    ['C=O', 1070, 720], ['(287.9 eV)', 1070.8, 740],
    ['Clorine', 229.2, 977.3], ['(201.3 eV)', 228.8, 998.3], ['Clorine', 384.2, 941.7], ['(199.7 eV)', 382.5, 963.3],
    ['Clorine', 643.3, 1015], ['(201.0 eV)', 643.7, 1036], ['Clorine', 749.7, 958.3], ['(199.5 eV)', 750, 980],
    ['Cloride', 805, 1023.3], ['(198.2 eV)', 803.3, 1045],
    ['Clorine', 1048.3, 978.3], ['(201.0 eV)', 1050, 999.3], ['Clorine', 1186.7, 935], ['(199.4 eV)', 1184.5, 956.7],
    ['Cloride', 1207.5, 1038.3], ['(197.9 eV)', 1207.8, 1060.7],
  ];
  ann.forEach((a) => graphic.push(txt(a[1], a[2], a[0], 20)));

  const AG = '#1FCF8E', AB = '#1414E8', AR = '#F03333', AP = '#9C1CC6', AC = '#1FC8C8';
  const arrs: any[] = [
    [316.7, 630, 356.7, 631, AG], [278.3, 702.3, 318.3, 710, AB],
    [735, 621.7, 775, 637.7, AG], [698.3, 705, 726.7, 730, AB], [648.3, 761.7, 683.3, 775.7, AR],
    [1128.3, 640, 1173.3, 652.3, AG], [1101.7, 697.7, 1138.3, 716.7, AB], [1073.3, 753.3, 1088.3, 771.7, AR],
    [220, 1016, 249.3, 1039.3, AP], [361.7, 979.3, 336.7, 1008.3, AB],
    [643.3, 1049.3, 672.7, 1075, AP], [748.3, 996, 730, 1030, AB], [790, 1061.7, 770, 1091.7, AC],
    [1051.7, 1015, 1079.3, 1038.3, AP], [1178.3, 974, 1153.3, 1000, AB], [1205, 1076, 1186, 1102.7, AC],
  ];
  arrs.forEach((a) => graphic.push(...arrow(a[0], a[1], a[2], a[3], a[4], 3, false, 12, 5.5)));

  // figure frame
  graphic.push({ type: 'line', z: 1, silent: true, shape: { x1: 10, y1: 10.5, x2: 1322, y2: 10.5 }, style: { stroke: '#d2d2d2', lineWidth: 1 } });
  graphic.push({ type: 'line', z: 1, silent: true, shape: { x1: 10.5, y1: 10, x2: 10.5, y2: 1352 }, style: { stroke: '#d2d2d2', lineWidth: 1 } });

  // caption
  graphic.push(txt(42, 1222, 'FIGURE 4', 14.8, { align: 'left', weight: 'normal', font: CAPTION_FONT, color: '#666' }));
  const CS = 18.4;
  const capRich = {
    r: { fontSize: CS, fontFamily: CAPTION_FONT, fill: '#555', lineHeight: 20 },
    i: { fontSize: CS, fontFamily: CAPTION_FONT, fill: '#555', fontStyle: 'italic', lineHeight: 20 },
    b: { fontSize: CS, fontFamily: CAPTION_FONT, fill: '#555', fontWeight: 'bold', lineHeight: 20 },
    sp: { fontSize: 12, fontFamily: CAPTION_FONT, fill: '#555', lineHeight: 12, verticalAlign: 'top' },
  };
  const capLines = [
    '{r|Chemical characterization of the PVC film. FT-IR spectra of PVC films biodegraded by }{i|C. koseri}{r| indicated by the orange line, gut microbiota the}',
    '{r|green line, and versus the control the black line }{b|(A–C)}{r|. Solid black arrows denote the hydroxyl group (O−H); dashed black arrows the carbonyl}',
    '{r|group (C = O). The }{sp|1}{r|H-NMR results of PVC film in }{i|C. koseri}{r|, gut microbiota, and untreated control }{b|(D–F)}{r|. XPS spectra of the C1s }{b|(G–I)}{r|, and Cl2p}',
    '{b|(J–L)}{r| of the PVC film samples: PVC control (left column), }{i|C. koseri}{r| treatment (middle column), and microbiota treatment (right column).}',
  ];
  capLines.forEach((t, k) => graphic.push(txt(42, 1249 + k * 24, t, CS, { align: 'left', weight: 'normal', font: CAPTION_FONT, color: '#555', rich: capRich })));

  return {
    animation: false,
    backgroundColor: '#ffffff',
    grid, xAxis, yAxis, series, legend, graphic,
  };
}

export default function App() {
  const ref = useRef<HTMLDivElement | null>(null);
  useEffect(() => {
    if (!ref.current) return;
    const chart = echarts.init(ref.current, null, { renderer: 'svg' });
    chart.setOption(buildOption() as any);
    return () => { chart.dispose(); };
  }, []);
  return <div ref={ref} style={{ position: 'absolute', left: 0, top: 0, width: 1322, height: 1352, background: '#ffffff' }} />;
}
